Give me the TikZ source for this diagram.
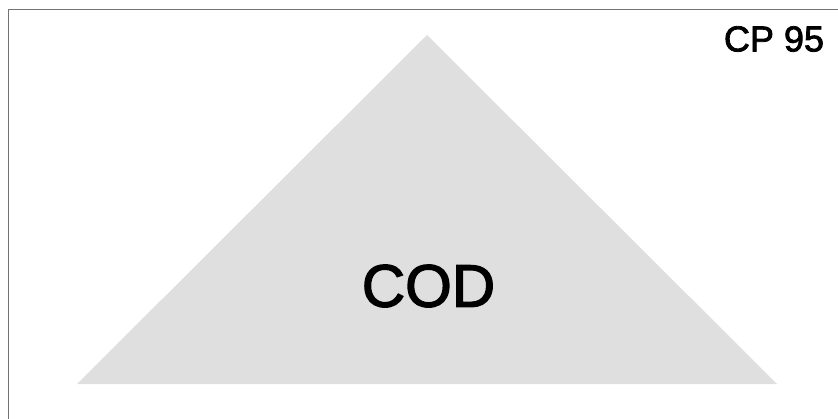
\documentclass[tikz,border=0pt]{standalone}
\usepackage{fontspec}
\setmainfont{Liberation Sans}
\newfontfamily\heavysans[FakeBold=2.2]{Liberation Sans}
\usetikzlibrary{positioning}

\begin{document}
\begin{tikzpicture}[
    x=1pt, y=-1pt,
    frameline/.style={draw=black!55, line width=1.5pt},
    pyramid/.style={fill=gray!25, draw=none},
    bigtext/.style={inner sep=0pt, font=\heavysans\fontsize{60}{64}\selectfont},
    tagtext/.style={inner sep=0pt, font=\heavysans\fontsize{36}{40}\selectfont},
]
\useasboundingbox (0,0) rectangle (838,418);
% frame, cropped at right and bottom
\draw[frameline] (8.5,420) -- (8.5,9.5) -- (840,9.5);
% triangle
\fill[pyramid] (427,35) -- (777,384) -- (77,384) -- cycle;
\node[bigtext] (cod) at (428.5,286) {COD};
\node[tagtext] (cp) at (774,39) {CP 95};
\end{tikzpicture}
\end{document}
